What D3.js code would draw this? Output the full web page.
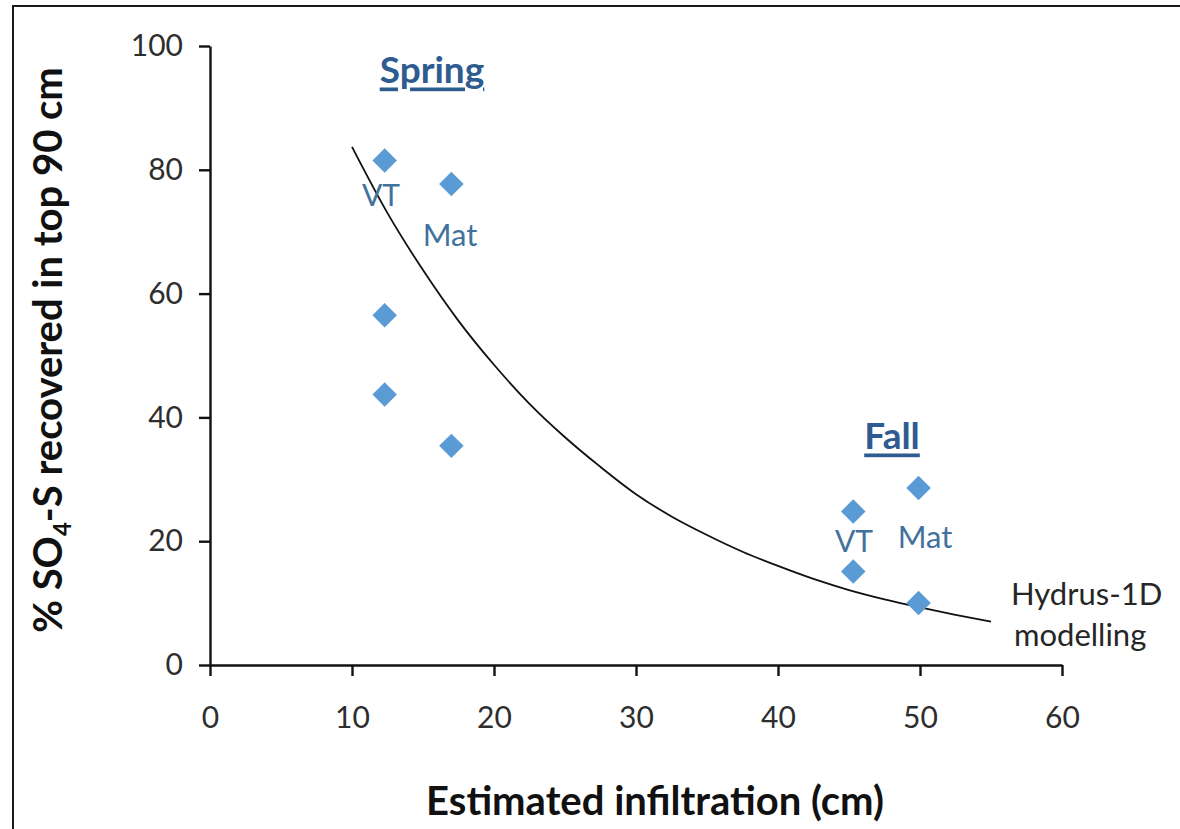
<!DOCTYPE html>
<html><head><meta charset="utf-8">
<script src="https://cdn.jsdelivr.net/npm/d3@7/dist/d3.min.js"></script>
<style>html,body{margin:0;padding:0;background:#fff;}svg{display:block;}</style>
</head><body>
<svg id="chart" width="1180" height="829"></svg>
<script>
// Observed points
const springX = [12.3, 17.0, 12.3, 12.3, 17.0];
const springY = [81.5, 77.7, 56.5, 43.7, 35.4];
const fallX = [45.3, 45.3, 49.9, 49.9];
const fallY = [24.8, 15.1, 28.6, 10.0];
// Hydrus-1D modelled curve
const modelX = [10, 12.5, 15, 17.5, 20, 22.5, 25, 27.5, 30, 32.5, 35, 37.5, 40, 42.5, 45, 47.5, 50, 52.5, 55];
const modelY = [83.7, 73.0, 63.8, 55.6, 48.5, 42.2, 36.8, 32.0, 27.6, 24.0, 21.0, 18.3, 16.0, 13.9, 12.1, 10.6, 9.3, 8.1, 7.0];
const xTicks = [0, 10, 20, 30, 40, 50, 60];
const yTicks = [0, 20, 40, 60, 80, 100];

const svg = d3.select("#chart");
const FONT = "Lato, 'Open Sans', sans-serif";

// frame
svg.append("rect").attr("x", 13).attr("y", 6).attr("width", 1200).attr("height", 900)
  .attr("fill", "none").attr("stroke", "#1a1a1a").attr("stroke-width", 2);

const x = d3.scaleLinear().domain([0, 60]).range([210, 1062]);
const y = d3.scaleLinear().domain([0, 100]).range([665, 46]);

const xAxis = svg.append("g").attr("transform", `translate(0,${y(0)})`)
  .call(d3.axisBottom(x).tickValues(xTicks).tickSize(11).tickSizeOuter(0).tickPadding(31));
const yAxis = svg.append("g").attr("transform", `translate(${x(0)},0)`)
  .call(d3.axisLeft(y).tickValues(yTicks).tickSize(11).tickSizeOuter(0).tickPadding(16));
[xAxis, yAxis].forEach(g => {
  g.select(".domain").attr("stroke", "#111").attr("stroke-width", 2.4);
  g.selectAll(".tick line").attr("stroke", "#111").attr("stroke-width", 2.4);
  g.selectAll(".tick text").attr("fill", "#2e2e2e").style("font-family", FONT).style("font-size", "30px");
});

// model curve
const line = d3.line().x(d => x(d[0])).y(d => y(d[1])).curve(d3.curveMonotoneX);
svg.append("path").datum(modelX.map((v, i) => [v, modelY[i]]))
  .attr("d", line).attr("fill", "none").attr("stroke", "#111").attr("stroke-width", 1.8);

// points
const sym = d3.symbol().type(d3.symbolSquare).size(300);
const pts = springX.map((v, i) => [v, springY[i]]).concat(fallX.map((v, i) => [v, fallY[i]]));
svg.append("g").selectAll("path").data(pts).join("path")
  .attr("d", sym)
  .attr("transform", d => `translate(${x(d[0])},${y(d[1])}) rotate(45)`)
  .attr("fill", "#5B9BD5");

// labels
function txt(s, px, py, opts = {}) {
  return svg.append("text").attr("x", px).attr("y", py)
    .attr("text-anchor", opts.anchor || "middle")
    .attr("dominant-baseline", "central")
    .attr("fill", opts.fill || "#41719C")
    .style("font-family", FONT)
    .style("font-size", (opts.size || 31) + "px")
    .style("font-weight", opts.weight || "normal")
    .style("text-decoration", opts.deco || "none")
    .text(s);
}
txt("Spring", 432, 68, {size: 37, weight: "bold", fill: "#2E5C91", deco: "underline"});
txt("Fall", 892, 434, {size: 37, weight: "bold", fill: "#2E5C91", deco: "underline"});
txt("VT", 381, 194, {size: 30});
txt("Mat", 450, 234);
txt("VT", 854, 540, {size: 30});
txt("Mat", 925, 536);
txt("Hydrus-1D", 1011, 593, {anchor: "start", fill: "#262626"});
txt("modelling", 1014, 634, {anchor: "start", fill: "#262626"});

// axis titles
txt("Estimated infiltration (cm)", 655, 800, {size: 40, weight: "bold", fill: "#111"});
const yt = svg.append("text").attr("transform", "translate(47,350) rotate(-90)")
  .attr("text-anchor", "middle").attr("dominant-baseline", "central")
  .attr("fill", "#111").style("font-family", FONT).style("font-size", "40px").style("font-weight", "bold");
yt.append("tspan").text("% SO");
yt.append("tspan").attr("baseline-shift", "sub").style("font-size", "24px").text("4");
yt.append("tspan").text("-S recovered in top 90 cm");
</script>
</body></html>
